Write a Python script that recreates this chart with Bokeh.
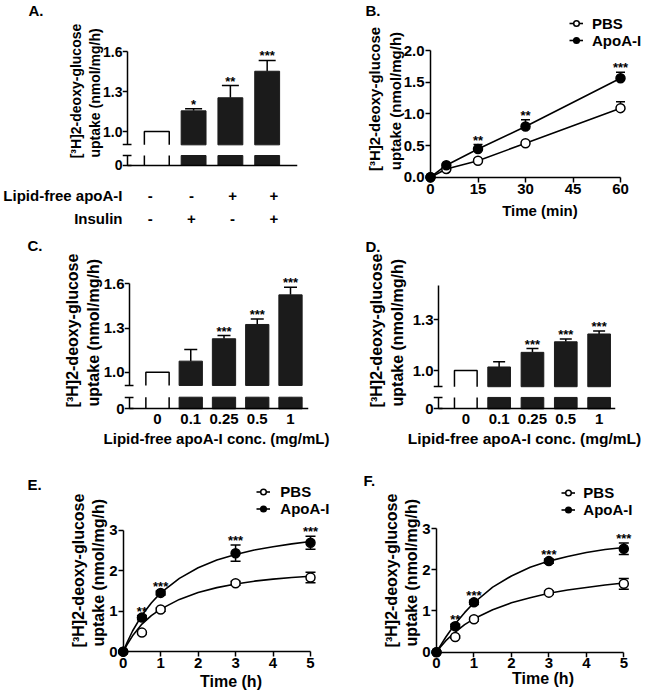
from bokeh.plotting import figure
from bokeh.models import (Range1d, LinearAxis, FixedTicker, PrintfTickFormatter,
                          Whisker, TeeHead, ColumnDataSource, LabelSet,
                          Legend, LegendItem)
from bokeh.core.properties import value
from bokeh.layouts import row, column
from bokeh.embed import file_html
from bokeh.resources import INLINE

FONT = "Liberation Sans"
INK = "black"
BAR = "#1b1b1b"

# ---------------- data ----------------
# A
a_lipid = ["-", "-", "+", "+"]
a_insulin = ["-", "+", "-", "+"]
a_row_labels = ["Lipid-free apoA-I", "Insulin"]
a_mean = [1.0, 1.155, 1.253, 1.452]
a_err = [0.0, 0.015, 0.092, 0.081]
a_sig = ["", "*", "**", "***"]
# B
b_time = [0, 5, 15, 30, 60]
b_pbs = [0.0, 0.13, 0.26, 0.535, 1.09]
b_pbs_err = [0.0, 0.01, 0.02, 0.02, 0.10]
b_apoa = [0.0, 0.19, 0.445, 0.80, 1.563]
b_apoa_err = [0.0, 0.02, 0.07, 0.105, 0.095]
b_sig = ["", "", "**", "**", "***"]
# C
conc_labels = ["0", "0.1", "0.25", "0.5", "1"]
c_mean = [1.0, 1.075, 1.227, 1.324, 1.525]
c_err = [0.0, 0.079, 0.022, 0.038, 0.052]
c_sig = ["", "", "***", "***", "***"]
# D
d_mean = [1.0, 1.021, 1.107, 1.169, 1.215]
d_err = [0.0, 0.03, 0.022, 0.016, 0.017]
d_sig = ["", "", "***", "***", "***"]
# E
e_time = [0, 0.5, 1, 3, 5]
e_pbs = [0.0, 0.47, 1.04, 1.69, 1.83]
e_pbs_err = [0.0, 0.03, 0.04, 0.05, 0.13]
e_apoa = [0.0, 0.84, 1.45, 2.43, 2.69]
e_apoa_err = [0.0, 0.05, 0.05, 0.20, 0.16]
e_sig = ["", "**", "***", "***", "***"]
fit_time = [0, 0.1, 0.25, 0.5, 0.75, 1, 1.5, 2, 2.5, 3, 3.5, 4, 4.5, 5]
e_pbs_fit = [0, 0.17, 0.39, 0.68, 0.89, 1.05, 1.29, 1.46, 1.58, 1.67, 1.74, 1.79, 1.83, 1.86]
e_apoa_fit = [0, 0.22, 0.51, 0.90, 1.20, 1.45, 1.81, 2.07, 2.26, 2.40, 2.51, 2.59, 2.66, 2.72]
# F
f_time = [0, 0.5, 1, 3, 5]
f_pbs = [0.0, 0.37, 0.80, 1.445, 1.66]
f_pbs_err = [0.0, 0.03, 0.04, 0.04, 0.13]
f_apoa = [0.0, 0.63, 1.21, 2.21, 2.51]
f_apoa_err = [0.0, 0.05, 0.05, 0.05, 0.14]
f_sig = ["", "**", "***", "***", "***"]
f_pbs_fit = [0, 0.12, 0.28, 0.49, 0.67, 0.81, 1.03, 1.20, 1.32, 1.43, 1.51, 1.57, 1.63, 1.68]
f_apoa_fit = [0, 0.155, 0.37, 0.69, 0.96, 1.20, 1.58, 1.85, 2.06, 2.21, 2.32, 2.42, 2.49, 2.54]

YLAB = "[\u00b3H]2-deoxy-glucose\nuptake  (nmol/mg/h)"
CONC_LAB = "Lipid-free apoA-I conc. (mg/mL)"

# ---------------- layout geometry (page pixels, page origin at 0,0) ----------------
GA = dict(cx=0, cy=0, w=330, h=180, L=121, R=297, T=14, B=167,
          y_ref=(1.0, 131.0, 133.33), zero_px=165.0, seg_px=155.0, x_ref=(155.5, 37.0), axis_px=126.0,
          brk=0.9, top=1.6, yticks=[1.0, 1.3, 1.6], bar_w=0.676, cap=17,
          ylab_c=97.5, ylab_size=14, ylab_standoff=-3, tick_size=14,
          letter="A.", letter_x=27, letter_standoff=-9, xlab=None)
GT = dict(cx=0, cy=180, w=330, h=52, rows_px=[195.0, 218.3], spread=1.12, size=15)
GC = dict(cx=0, cy=232, w=330, h=228, L=124, R=308, T=250, B=410,
          y_ref=(1.0, 371.7, 147.3), zero_px=408.3, seg_px=396.7, x_ref=(157.0, 33.25), axis_px=129.3,
          brk=0.91, top=1.6, yticks=[1.0, 1.3, 1.6], bar_w=0.70, cap=13,
          ylab_c=336.5, ylab_size=16, ylab_standoff=-1, tick_size=15,
          letter="C.", letter_x=27, letter_standoff=-7,
          xlab=CONC_LAB, xlab_c=208, xlab_size=15, xlab_standoff=3)
GD = dict(cx=330, cy=232, w=330, h=228, L=433, R=615, T=247, B=410,
          y_ref=(1.0, 369.3, 173.3), zero_px=408.3, seg_px=396.7, x_ref=(465.3, 33.33), axis_px=438.3,
          brk=0.905, top=1.5, yticks=[1.0, 1.3], bar_w=0.68, cap=12,
          ylab_c=335, ylab_size=16, ylab_standoff=4, tick_size=15,
          letter="D.", letter_x=365, letter_standoff=-9,
          xlab=CONC_LAB, xlab_c=531, xlab_size=15.5, xlab_standoff=3)
GB = dict(cx=330, cy=0, w=330, h=232, L=424, R=655, T=14, B=183,
          x_ref=(0.0, 430.0, 3.1667), y_ref=(0.0, 176.7, 63.35),
          xticks=[0, 15, 30, 45, 60], yticks=[0, 0.5, 1.0, 1.5, 2.0], yfmt="%.1f",
          ylab_c=105, ylab_size=15, ylab_standoff=-3, ytick_size=15, xtick_size=15,
          xlab="Time (min)", xlab_c=525, xlab_size=15, xlab_standoff=5,
          letter="B.", letter_x=365, letter_standoff=-9,
          legend=(145, 134.15, 16, 9, 15), cap=9, both=False)
GE = dict(cx=0, cy=460, w=345, h=238, L=117, R=344, T=479, B=657,
          x_ref=(0.0, 122.7, 37.46), y_ref=(0.0, 651.0, 41.43),
          xticks=[0, 1, 2, 3, 4, 5], yticks=[0, 1, 2, 3], yfmt="%d",
          ylab_c=581, ylab_size=16, ylab_standoff=-1, ytick_size=15, xtick_size=15,
          xlab="Time (h)", xlab_c=216, xlab_size=16, xlab_standoff=2,
          letter="E.", letter_x=27, letter_standoff=-18,
          legend=(139.3, 140.5, 17, 10, 15), cap=10, both=True)
GF = dict(cx=345, cy=460, w=315, h=238, L=430, R=655, T=483, B=658,
          x_ref=(0.0, 436.0, 37.46), y_ref=(0.0, 652.7, 41.47),
          xticks=[0, 1, 2, 3, 4, 5], yticks=[0, 1, 2, 3], yfmt="%d",
          ylab_c=580.5, ylab_size=16, ylab_standoff=-1, ytick_size=15, xtick_size=15,
          xlab="Time (h)", xlab_c=541, xlab_size=16, xlab_standoff=-1,
          letter="F.", letter_x=363, letter_standoff=-10,
          legend=(131.3, 139.35, 17, 8, 15), cap=10, both=True)


def panel_fig(g, xr, yr, letter=True):
    p = figure(width=g["w"], height=g["h"], x_range=Range1d(*xr), y_range=Range1d(*yr),
               output_backend="svg", toolbar_location=None, x_axis_type=None, y_axis_type=None,
               min_border_left=g["L"] - g["cx"], min_border_right=g["cx"] + g["w"] - g["R"],
               min_border_top=g["T"] - g["cy"], min_border_bottom=g["cy"] + g["h"] - g["B"],
               title=g["letter"] if letter else None)
    p.outline_line_color = None
    p.background_fill_color = "white"
    p.border_fill_color = "white"
    if letter:
        t = p.title
        t.align = "left"
        t.offset = g["letter_x"] - g["L"]
        t.standoff = g["letter_standoff"]
        t.text_font = FONT
        t.text_font_size = "15px"
        t.text_font_style = "bold"
        t.text_color = INK
    return p


def centered_bounds(c, lo, hi, eps):
    b = hi + eps
    a = 2 * c - b
    if a > lo - eps:
        a = lo - eps
        b = 2 * c - a
    return (a, b)


def rule_axis(p, side, loc, bounds, ticks, tick_in=5, tick_out=0, range_name=None):
    """Axis line + ticks drawn at their true data location (ticks as minor ticks, no labels)."""
    kw = {"y_range_name": range_name} if range_name else {}
    ax = LinearAxis(fixed_location=loc, bounds=bounds,
                    ticker=FixedTicker(ticks=[], minor_ticks=list(ticks)), **kw)
    ax.axis_line_width = 1.5
    ax.axis_line_color = INK
    ax.major_tick_line_color = None
    ax.major_tick_in = 0
    ax.major_tick_out = 0
    ax.minor_tick_line_width = 1.5
    ax.minor_tick_line_color = INK
    ax.minor_tick_in = tick_in
    ax.minor_tick_out = tick_out
    ax.major_label_standoff = 0
    p.add_layout(ax, side)


def label_axis(p, side, ticks, bounds, tick_size, fmt=None, overrides=None, standoff=0,
               label=None, label_size=15, label_standoff=0):
    """Tick labels and axis title (no line, no tick marks)."""
    ax = LinearAxis(bounds=bounds if bounds is not None else "auto", ticker=FixedTicker(ticks=list(ticks)))
    if fmt:
        ax.formatter = PrintfTickFormatter(format=fmt)
    if overrides:
        ax.major_label_overrides = overrides
    ax.axis_line_color = None
    ax.major_tick_line_color = None
    ax.minor_tick_line_color = None
    ax.major_tick_out = 0
    ax.major_tick_in = 0
    ax.minor_tick_out = 0
    ax.minor_tick_in = 0
    ax.major_label_standoff = standoff
    ax.major_label_text_font = FONT
    ax.major_label_text_font_size = f"{tick_size}px"
    ax.major_label_text_font_style = "bold"
    ax.major_label_text_color = INK
    if label:
        ax.axis_label = label
        ax.axis_label_text_font = FONT
        ax.axis_label_text_font_size = f"{label_size}px"
        ax.axis_label_text_font_style = "bold"
        ax.axis_label_text_color = INK
        ax.axis_label_standoff = label_standoff
    p.add_layout(ax, side)


def stars(p, xs, tops, sigs, size=13):
    keep = [i for i, s in enumerate(sigs) if s]
    src = ColumnDataSource(dict(x=[xs[i] for i in keep], y=[tops[i] for i in keep],
                                t=[sigs[i] for i in keep]))
    p.add_layout(LabelSet(x="x", y="y", text="t", source=src, text_align="center",
                          text_baseline="alphabetic", text_font=value(FONT),
                          text_font_size=f"{size}px", text_font_style="bold", text_color=INK))


def whiskers(p, xs, lo, hi, cap, both):
    keep = [i for i in range(len(xs)) if hi[i] > lo[i] + 1e-9]
    src = ColumnDataSource(dict(x=[xs[i] for i in keep], lo=[lo[i] for i in keep],
                                hi=[hi[i] for i in keep]))
    p.add_layout(Whisker(source=src, base="x", lower="lo", upper="hi", dimension="height",
                         line_width=1.5, line_color=INK, level="underlay",
                         upper_head=TeeHead(size=cap, line_width=1.5, line_color=INK),
                         lower_head=TeeHead(size=cap, line_width=1.5, line_color=INK) if both else None))


def bar_panel(g, means, errs, sigs, x_labels=None):
    n = len(means)
    xs = list(range(n))
    va, pa, k = g["y_ref"]
    c0, s = g["x_ref"]
    yv = lambda py: va + (pa - py) / k
    xv = lambda px: (px - c0) / s
    k2 = g["zero_px"] - g["seg_px"]
    xr = (xv(g["L"]), xv(g["R"]))
    p = panel_fig(g, xr, (yv(g["B"]), yv(g["T"])))
    p.extra_y_ranges = {"low": Range1d((g["zero_px"] - g["B"]) / k2, (g["zero_px"] - g["T"]) / k2)}
    w, brk = g["bar_w"], g["brk"]
    x0, m0 = xs[0], means[0]
    # upper segment of the broken axis
    p.vbar(x=xs[1:], width=w, bottom=brk, top=means[1:], fill_color=BAR, line_color=BAR, line_width=1)
    p.multi_line(xs=[[x0 - w / 2, x0 - w / 2, x0 + w / 2, x0 + w / 2]], ys=[[brk, m0, m0, brk]],
                 line_color=INK, line_width=1.5)
    # lower segment (0 .. break)
    p.vbar(x=xs[1:], width=w, bottom=0, top=1, fill_color=BAR, line_color=BAR, line_width=1,
           y_range_name="low")
    p.multi_line(xs=[[x0 - w / 2] * 2, [x0 + w / 2] * 2], ys=[[0, 1], [0, 1]], line_color=INK,
                 line_width=1.5, y_range_name="low")
    tops = [m + e for m, e in zip(means, errs)]
    whiskers(p, xs, means, tops, g["cap"], both=False)
    stars(p, xs, tops, sigs)
    axis_x = xv(g["axis_px"])
    zero_val = round(yv(g["zero_px"]), 4)
    yt = [zero_val] + g["yticks"]
    label_axis(p, "left", yt, centered_bounds(yv(g["ylab_c"]), zero_val, g["yticks"][-1], 0.004),
               g["tick_size"], fmt="%.1f", overrides={zero_val: "0"}, standoff=0,
               label=YLAB, label_size=g["ylab_size"], label_standoff=g["ylab_standoff"])
    if x_labels:
        label_axis(p, "below", xs, centered_bounds(xv(g["xlab_c"]), 0, n - 1, 0.01), g["tick_size"],
                   overrides={i: t for i, t in zip(xs, x_labels)}, standoff=3,
                   label=g["xlab"], label_size=g["xlab_size"], label_standoff=g["xlab_standoff"])
    rule_axis(p, "right", axis_x, (brk, g["top"]), g["yticks"])
    rule_axis(p, "right", axis_x, (brk, brk), [brk], tick_in=5, tick_out=4)
    rule_axis(p, "right", axis_x, (0, 1), [0, 1], tick_in=5, tick_out=4, range_name="low")
    rule_axis(p, "above", 0, (axis_x, xr[1]), [], range_name="low")
    return p, xr


def xy_panel(g, t, pbs, pbs_err, apoa, apoa_err, sig, fit_t=None, pbs_fit=None, apoa_fit=None):
    xa0, xp0, kx = g["x_ref"]
    ya0, yp0, ky = g["y_ref"]
    xv = lambda px: xa0 + (px - xp0) / kx
    yv = lambda py: ya0 + (yp0 - py) / ky
    p = panel_fig(g, (xv(g["L"]), xv(g["R"])), (yv(g["B"]), yv(g["T"])))
    if fit_t is not None:
        l1 = p.line(fit_t, pbs_fit, line_color=INK, line_width=1.6)
        l2 = p.line(fit_t, apoa_fit, line_color=INK, line_width=1.6)
    else:
        l1 = p.line(t, pbs, line_color=INK, line_width=1.6)
        l2 = p.line(t, apoa, line_color=INK, line_width=1.6)
    up_p = [m + e for m, e in zip(pbs, pbs_err)]
    up_a = [m + e for m, e in zip(apoa, apoa_err)]
    if g["both"]:
        whiskers(p, t, [m - e for m, e in zip(pbs, pbs_err)], up_p, g["cap"], True)
        whiskers(p, t, [m - e for m, e in zip(apoa, apoa_err)], up_a, g["cap"], True)
    else:
        whiskers(p, t, pbs, up_p, g["cap"], False)
        whiskers(p, t, apoa, up_a, g["cap"], False)
    s1 = p.scatter(t, pbs, size=9, marker="circle", fill_color="white", line_color=INK, line_width=1.5)
    s2 = p.scatter(t, apoa, size=9, marker="circle", fill_color=INK, line_color=INK, line_width=1.5)
    stars(p, t, up_a, sig)
    xt, ytk = g["xticks"], g["yticks"]
    label_axis(p, "left", ytk, centered_bounds(yv(g["ylab_c"]), ytk[0], ytk[-1], 0.01), g["ytick_size"],
               fmt=g["yfmt"], standoff=0, label=YLAB, label_size=g["ylab_size"],
               label_standoff=g["ylab_standoff"])
    label_axis(p, "below", xt, centered_bounds(xv(g["xlab_c"]), xt[0], xt[-1], 0.01), g["xtick_size"],
               standoff=0, label=g["xlab"], label_size=g["xlab_size"], label_standoff=g["xlab_standoff"])
    rule_axis(p, "right", 0, (ytk[0], ytk[-1]), ytk)
    rule_axis(p, "above", 0, (xt[0], xt[-1]), xt)
    vx, vy, hh, stand, fs = g["legend"]
    leg = Legend(items=[LegendItem(label="PBS", renderers=[l1, s1]),
                        LegendItem(label="ApoA-I", renderers=[l2, s2])],
                 location=(vx, vy), orientation="vertical", padding=0, margin=0, spacing=0,
                 glyph_width=14, glyph_height=hh, label_height=hh, label_standoff=stand,
                 border_line_color=None, background_fill_alpha=0,
                 label_text_font=FONT, label_text_font_size=f"{fs}px", label_text_font_style="bold",
                 label_text_color=INK)
    p.add_layout(leg)
    return p


# ---------------- panel A and its treatment table ----------------
pA, xrA = bar_panel(GA, a_mean, a_err, a_sig)

r1, r2 = GT["rows_px"]
pT = figure(width=GT["w"], height=GT["h"], x_range=Range1d(*xrA),
            y_range=Range1d(GT["cy"] + GT["h"], GT["cy"]),
            output_backend="svg", toolbar_location=None, x_axis_type=None, y_axis_type=None,
            min_border_left=GA["L"] - GA["cx"], min_border_right=GA["cx"] + GA["w"] - GA["R"],
            min_border_top=0, min_border_bottom=0, title=None)
pT.outline_line_color = None
pT.border_fill_color = "white"
cen = (len(a_mean) - 1) / 2
cols = [cen + (i - cen) * GT["spread"] for i in range(len(a_mean))]
pT.text(x=cols + cols, y=[r1] * len(cols) + [r2] * len(cols), text=a_lipid + a_insulin,
        text_align="center", text_baseline="middle", text_font=value(FONT),
        text_font_size=f"{GT['size']}px", text_font_style="bold", text_color=INK)
label_axis(pT, "left", [r1, r2], None, GT["size"],
           overrides={r1: a_row_labels[0], r2: a_row_labels[1]}, standoff=0)

# ---------------- other panels ----------------
pB = xy_panel(GB, b_time, b_pbs, b_pbs_err, b_apoa, b_apoa_err, b_sig)
pC, _ = bar_panel(GC, c_mean, c_err, c_sig, conc_labels)
pD, _ = bar_panel(GD, d_mean, d_err, d_sig, conc_labels)
pE = xy_panel(GE, e_time, e_pbs, e_pbs_err, e_apoa, e_apoa_err, e_sig, fit_time, e_pbs_fit, e_apoa_fit)
pF = xy_panel(GF, f_time, f_pbs, f_pbs_err, f_apoa, f_apoa_err, f_sig, fit_time, f_pbs_fit, f_apoa_fit)

layout = column(row(column(pA, pT), pB), row(pC, pD), row(pE, pF))
open("out.html", "w").write(file_html(layout, INLINE))
